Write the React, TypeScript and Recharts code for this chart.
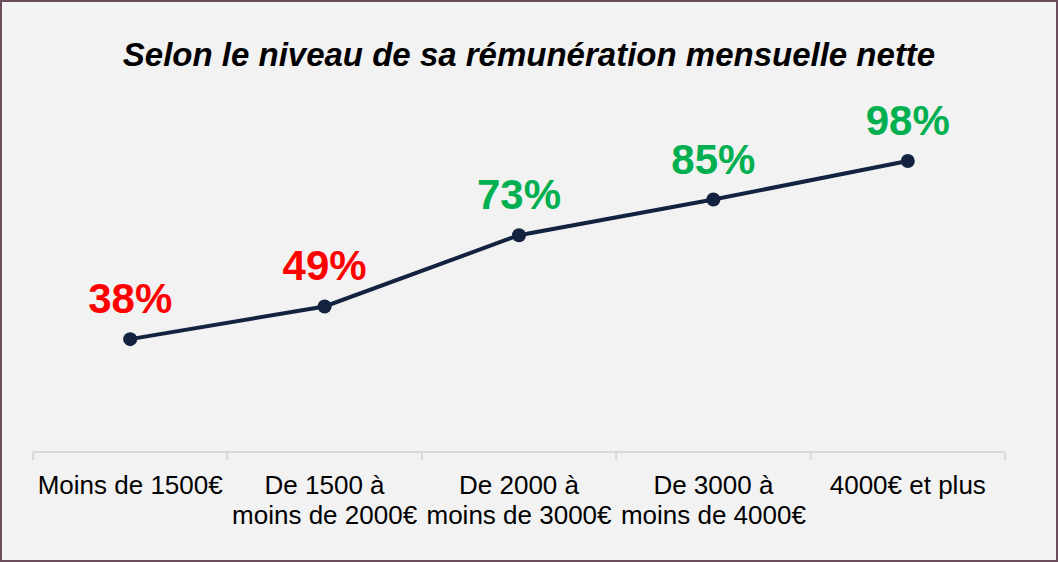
import { LineChart, Line, XAxis, YAxis, LabelList } from 'recharts';

const categories = [
    'Moins de 1500€',
    'De 1500 à\nmoins de 2000€',
    'De 2000 à\nmoins de 3000€',
    'De 3000 à\nmoins de 4000€',
    '4000€ et plus',
];
const shares = [38, 49, 73, 85, 98];

const data = categories.map((name, i) => ({ name, value: shares[i] }));

const W = 1058;
const H = 562;

const CategoryTick = (props: any) => {
    const { x, y, payload, index, visibleTicksCount, width } = props;
    const half = payload?.offset || width / visibleTicksCount / 2;
    const lines = String(payload.value).split('\n');
    return (
        <g>
            <line x1={x - half} y1={y - 8} x2={x - half} y2={y} stroke="#d9d9d9" strokeWidth={2} />
            {index === visibleTicksCount - 1 && (
                <line x1={x + half} y1={y - 8} x2={x + half} y2={y} stroke="#d9d9d9" strokeWidth={2} />
            )}
            <text
                x={x}
                y={y + 34}
                textAnchor="middle"
                fill="#000"
                fontSize={26}
                fontFamily="'Liberation Sans', Arial, sans-serif"
            >
                {lines.map((l, i) => (
                    <tspan key={i} x={x} dy={i === 0 ? 0 : 30}>
                        {l}
                    </tspan>
                ))}
            </text>
        </g>
    );
};

const ValueLabel = (props: any) => {
    const { x, y, value } = props;
    const color = value < 50 ? '#ff0000' : '#00b050';
    return (
        <text
            x={x}
            y={y - 26}
            textAnchor="middle"
            fill={color}
            fontSize={42}
            fontWeight="bold"
            fontFamily="'Liberation Sans', Arial, sans-serif"
        >
            {value}%
        </text>
    );
};

export default function App() {
    return (
        <div
            style={{
                position: 'fixed',
                top: 0,
                left: 0,
                width: W,
                height: H,
                background: '#f2f2f2',
                overflow: 'hidden',
            }}
        >
            <div
                style={{
                    position: 'absolute',
                    top: 30,
                    left: 0,
                    width: W,
                    textAlign: 'center',
                    fontFamily: "'Liberation Sans', Arial, sans-serif",
                    fontWeight: 'bold',
                    fontStyle: 'italic',
                    fontSize: 33,
                    lineHeight: '50px',
                    color: '#000',
                }}
            >
                Selon le niveau de sa rémunération mensuelle nette
            </div>
            <LineChart
                width={W}
                height={H}
                data={data}
                margin={{ top: 155, right: 53, left: 33, bottom: 0 }}
            >
                <XAxis
                    dataKey="name"
                    type="category"
                    scale="band"
                    interval={0}
                    height={110}
                    tickLine={false}
                    axisLine={{ stroke: '#d9d9d9', strokeWidth: 2 }}
                    tick={(p: any) => <CategoryTick {...p} />}
                />
                <YAxis hide domain={[0, 100]} />
                <Line
                    dataKey="value"
                    stroke="#13233f"
                    strokeWidth={4}
                    dot={{ r: 7, fill: '#13233f', stroke: '#13233f', strokeWidth: 0 }}
                    isAnimationActive={false}
                >
                    <LabelList dataKey="value" content={(p: any) => <ValueLabel {...p} />} />
                </Line>
            </LineChart>
            <div
                style={{
                    position: 'absolute',
                    inset: 0,
                    border: '2px solid #6b4c5c',
                    boxSizing: 'border-box',
                    pointerEvents: 'none',
                }}
            />
        </div>
    );
}
